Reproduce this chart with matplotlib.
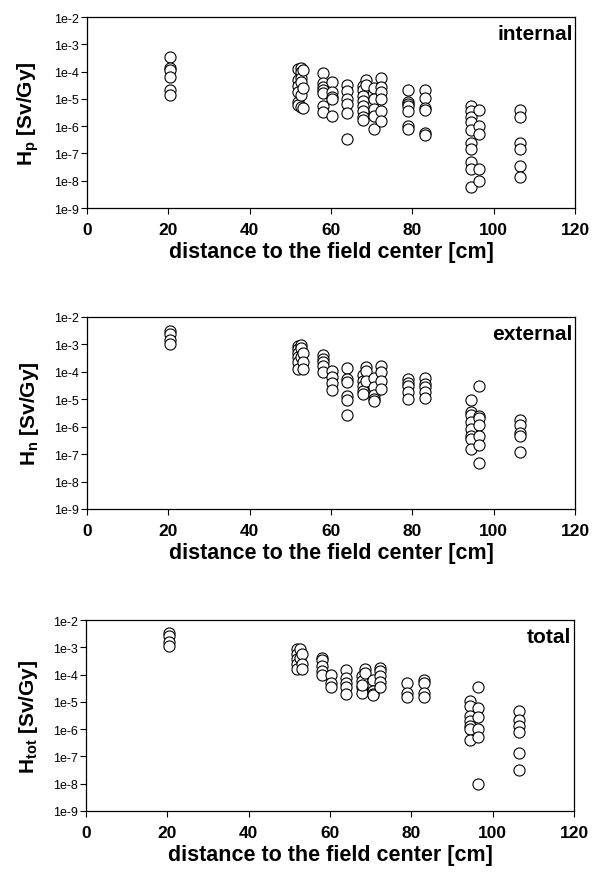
import matplotlib
matplotlib.use("Agg")
import matplotlib.pyplot as plt
import numpy as np

plt.rcParams['font.family'] = ['Liberation Sans', 'DejaVu Sans']

# ---- data: (distance [cm], dose [Sv/Gy]) ----
int_x = [20.5]*6 + [51.8]*6 + [52.5]*6 + [53.2]*3 + [58.0]*7 + [60.3]*5 + [64.0]*6 \
    + [67.8]*8 + [68.5]*2 + [70.5]*5 + [72.3]*6 + [79.0]*7 + [83.0]*6 + [94.5]*10 \
    + [96.3]*5 + [106.5]*6
int_y = [3.5e-4, 1.4e-4, 1.1e-4, 6.4e-5, 2.1e-5, 1.4e-5,
         1.2e-4, 5e-5, 3e-5, 1.8e-5, 8e-6, 6e-6,
         1.4e-4, 1.0e-4, 6e-5, 4e-5, 1.4e-5, 5e-6,
         1.1e-4, 2.6e-5, 4.8e-6,
         8.9e-5, 3.9e-5, 2.8e-5, 2.1e-5, 1.6e-5, 5.7e-6, 3.3e-6,
         4e-5, 1.8e-5, 1.2e-5, 1.0e-5, 2.3e-6,
         3.3e-5, 1.9e-5, 1e-5, 6.3e-6, 3.1e-6, 3.5e-7,
         3e-5, 2.2e-5, 1.3e-5, 8.3e-6, 5.5e-6, 3.6e-6, 2.2e-6, 1.7e-6,
         4.8e-5, 3.3e-5,
         2.5e-5, 1.0e-5, 4.2e-6, 2.3e-6, 8e-7,
         5.6e-5, 2.8e-5, 1.8e-5, 1e-5, 3.5e-6, 1.5e-6,
         2.1e-5, 8e-6, 6.5e-6, 5.5e-6, 3.5e-6, 1e-6, 8e-7,
         2.1e-5, 1.1e-5, 4.7e-6, 4e-6, 5.8e-7, 4.7e-7,
         5.5e-6, 3.6e-6, 2.2e-6, 1.4e-6, 7.5e-7, 2.5e-7, 1.4e-7, 5e-8, 2.8e-8, 6e-9,
         4e-6, 1e-6, 5e-7, 2.6e-8, 1e-8,
         4e-6, 2.1e-6, 2.5e-7, 1.5e-7, 3.4e-8, 1.4e-8]

ext_x = [20.5]*4 + [51.8]*6 + [52.5]*3 + [53.2]*3 + [58.0]*5 + [60.3]*4 + [64.0]*6 \
    + [67.8]*5 + [68.5]*3 + [70.5]*5 + [72.3]*4 + [79.0]*5 + [83.0]*5 + [94.5]*8 \
    + [96.3]*7 + [106.5]*5
ext_y = [3.2e-3, 2.4e-3, 1.4e-3, 1.05e-3,
         9e-4, 7e-4, 5e-4, 3.5e-4, 2.2e-4, 1.3e-4,
         9.5e-4, 7.5e-4, 3.4e-4,
         5e-4, 2.2e-4, 1.3e-4,
         4e-4, 3e-4, 2.2e-4, 1.7e-4, 1e-4,
         1.1e-4, 6.3e-5, 3.8e-5, 2.2e-5,
         1.4e-4, 5.5e-5, 4.2e-5, 1.3e-5, 9.5e-6, 2.6e-6,
         8e-5, 4.5e-5, 3e-5, 2e-5, 1.6e-5,
         1.5e-4, 1.1e-4, 4.5e-5,
         6e-5, 2.7e-5, 1.4e-5, 1e-5, 8.5e-6,
         1.6e-4, 1e-4, 4.8e-5, 2.3e-5,
         5.5e-5, 3.8e-5, 3.1e-5, 1.8e-5, 1e-5,
         5.8e-5, 3.6e-5, 2.8e-5, 1.9e-5, 1.1e-5,
         9.3e-6, 3.3e-6, 2.6e-6, 1.5e-6, 8.3e-7, 4.6e-7, 3.5e-7, 1.6e-7,
         3.1e-5, 2.5e-6, 2e-6, 1.2e-6, 4.7e-7, 2.1e-7, 4.8e-8,
         1.8e-6, 1.2e-6, 5.8e-7, 4.6e-7, 1.2e-7]

tot_x = [20.5]*4 + [51.8]*5 + [52.5]*2 + [53.2]*3 + [58.0]*5 + [60.3]*3 + [64.0]*5 \
    + [67.8]*5 + [68.5]*2 + [70.5]*4 + [72.3]*5 + [79.0]*3 + [83.0]*4 + [94.5]*7 \
    + [96.3]*6 + [106.5]*6
tot_y = [3.4e-3, 2.6e-3, 1.5e-3, 1.1e-3,
         8.5e-4, 5.5e-4, 3.6e-4, 2.4e-4, 1.6e-4,
         9e-4, 4.2e-4,
         5.5e-4, 2.4e-4, 1.6e-4,
         4.2e-4, 3.4e-4, 2e-4, 1.4e-4, 1e-4,
         1e-4, 5e-5, 3.4e-5,
         1.5e-4, 7.8e-5, 5e-5, 3.4e-5, 1.9e-5,
         9e-5, 5.9e-5, 3.4e-5, 2.1e-5, 4e-5,
         1.6e-4, 1.1e-4,
         6.4e-5, 2.6e-5, 2e-5, 1.8e-5,
         1.7e-4, 1.4e-4, 9e-5, 5.5e-5, 3.6e-5,
         4.8e-5, 2.2e-5, 1.5e-5,
         6.4e-5, 4.8e-5, 2.2e-5, 1.5e-5,
         1.1e-5, 7.2e-6, 3.1e-6, 2e-6, 1.3e-6, 1e-6, 4.1e-7,
         3.4e-5, 6e-6, 2.7e-6, 1e-6, 5.3e-7, 9.4e-9,
         4.7e-6, 2.2e-6, 1.3e-6, 7.7e-7, 1.3e-7, 3.2e-8]

panel_labels = ["internal", "external", "total"]
ylabels = [r"$\mathbf{H_p}$ [Sv/Gy]", r"$\mathbf{H_n}$ [Sv/Gy]", r"$\mathbf{H_{tot}}$ [Sv/Gy]"]
xlabel = "distance to the field center [cm]"
yticks = [1e-9, 1e-8, 1e-7, 1e-6, 1e-5, 1e-4, 1e-3, 1e-2]
ytick_labels = ["1e-9", "1e-8", "1e-7", "1e-6", "1e-5", "1e-4", "1e-3", "1e-2"]
xticks = [0, 20, 40, 60, 80, 100, 120]

W, H = 600, 879
fig = plt.figure(figsize=(W/100, H/100), dpi=100)
plt.rcParams['mathtext.fontset'] = 'custom'
plt.rcParams['mathtext.bf'] = 'Liberation Sans:bold'
plt.rcParams['mathtext.rm'] = 'Liberation Sans'

# axes boxes in pixels: (left, top, right, bottom)
boxes = [(87, 18, 575, 209), (87, 318, 575, 510), (86, 621, 574, 812)]
data = [(int_x, int_y), (ext_x, ext_y), (tot_x, tot_y)]

for (l, t, r, b), (xs, ys), lab, yl in zip(boxes, data, panel_labels, ylabels):
    ax = fig.add_axes([l/W, 1-b/H, (r-l)/W, (b-t)/H])
    ax.scatter(xs, ys, s=64, facecolors='white', edgecolors='black', linewidths=0.8, zorder=3)
    ax.set_yscale('log')
    ax.set_ylim(1e-9, 1e-2)
    ax.set_xlim(0, 120)
    ax.set_yticks(yticks)
    ax.set_yticklabels(ytick_labels, fontsize=9)
    ax.yaxis.set_minor_locator(matplotlib.ticker.NullLocator())
    ax.set_xticks(xticks)
    ax.set_xticklabels([str(v) for v in xticks], fontsize=12.5, fontweight='bold')
    ax.tick_params(direction='out', length=4, width=0.8, pad=2)
    ax.tick_params(axis='x', pad=6)
    for sp in ax.spines.values():
        sp.set_linewidth(0.9)
    ax.set_xlabel(xlabel, fontsize=15.5, fontweight='bold', labelpad=3)
    ax.set_ylabel(yl, fontsize=15, fontweight='bold', labelpad=9)
    ax.text(0.995, 0.915, lab, transform=ax.transAxes, ha='right', va='center',
            fontsize=15, fontweight='bold')

fig.savefig("out.png", dpi=100)
